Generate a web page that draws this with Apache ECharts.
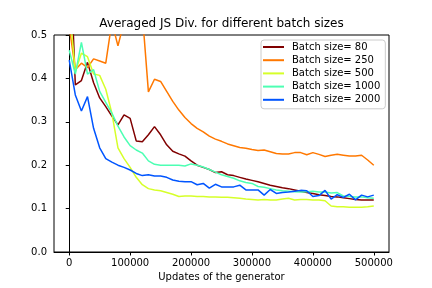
<!DOCTYPE html>
<html><head><meta charset="utf-8">
<script src="https://cdn.jsdelivr.net/npm/echarts@6/dist/echarts.min.js"></script>
<style>html,body{margin:0;padding:0;background:#fff}#c{width:432px;height:288px}</style>
</head><body><div id="c"></div>
<script>
const updates = [0,10000,20000,30000,40000,50000,60000,70000,80000,90000,
  100000,110000,120000,130000,140000,150000,160000,170000,180000,190000,
  200000,210000,220000,230000,240000,250000,260000,270000,280000,290000,
  300000,310000,320000,330000,340000,350000,360000,370000,380000,390000,
  400000,410000,420000,430000,440000,450000,460000,470000,480000,490000,500000];
const seriesNames = ['Batch size= 80','Batch size= 250','Batch size= 500','Batch size= 1000','Batch size= 2000'];
const batch80 = [0.75,0.385,0.395,0.437,0.39,0.355,0.335,0.313,0.293,0.316,
  0.308,0.256,0.254,0.27,0.289,0.27,0.247,0.232,0.226,0.221,
  0.21,0.2,0.195,0.19,0.183,0.185,0.178,0.176,0.172,0.168,
  0.165,0.162,0.158,0.154,0.151,0.148,0.146,0.143,0.14,0.137,
  0.135,0.132,0.13,0.128,0.127,0.125,0.123,0.121,0.12,0.12,0.12];
const batch250 = [0.52,0.42,0.435,0.425,0.445,0.44,0.435,0.53,0.475,0.53,
  0.58,0.57,0.55,0.369,0.398,0.393,0.37,0.347,0.327,0.31,
  0.296,0.285,0.277,0.267,0.26,0.255,0.249,0.245,0.241,0.239,
  0.236,0.234,0.235,0.231,0.227,0.226,0.226,0.229,0.229,0.224,
  0.229,0.225,0.22,0.223,0.225,0.223,0.221,0.221,0.223,0.212,0.2];
const batch500 = [0.57,0.415,0.458,0.45,0.41,0.407,0.375,0.32,0.24,0.215,
  0.195,0.172,0.155,0.146,0.143,0.141,0.137,0.133,0.128,0.129,
  0.129,0.128,0.128,0.127,0.127,0.126,0.126,0.125,0.124,0.122,
  0.121,0.12,0.121,0.12,0.12,0.122,0.124,0.12,0.121,0.121,
  0.12,0.12,0.118,0.106,0.104,0.104,0.103,0.103,0.103,0.104,0.106];
const batch1000 = [0.465,0.41,0.483,0.41,0.42,0.37,0.345,0.32,0.29,0.265,
  0.245,0.235,0.228,0.21,0.202,0.2,0.2,0.2,0.2,0.198,
  0.203,0.2,0.196,0.19,0.184,0.178,0.174,0.17,0.164,0.16,
  0.158,0.151,0.149,0.146,0.143,0.141,0.14,0.139,0.138,0.139,
  0.14,0.138,0.138,0.136,0.137,0.129,0.128,0.127,0.127,0.125,0.124];
const batch2000 = [0.442,0.362,0.325,0.358,0.285,0.24,0.215,0.207,0.2,0.195,
  0.189,0.181,0.176,0.178,0.175,0.175,0.172,0.166,0.163,0.162,
  0.162,0.155,0.158,0.147,0.156,0.15,0.15,0.15,0.154,0.143,
  0.143,0.143,0.131,0.144,0.135,0.137,0.138,0.14,0.142,0.141,
  0.128,0.13,0.142,0.122,0.132,0.126,0.133,0.12,0.131,0.127,0.131];
const xTicks = [0,100000,200000,300000,400000,500000];
const colors = ['#800000','#ff7800','#d6ff29','#4dffb3','#0055ff'];
const allSeries = [batch80,batch250,batch500,batch1000,batch2000];
const font = 'DejaVu Sans';

const chart = echarts.init(document.getElementById('c'), null, {renderer:'canvas'});
chart.setOption({
  animation:false,
  backgroundColor:'#fff',
  graphic:[{type:'text', x:221.5, y:24, style:{text:'Averaged JS Div. for different batch sizes', font:'12px "DejaVu Sans"', fill:'#000', align:'center', verticalAlign:'middle'}}],
  grid:{left:54, right:43, top:35, bottom:36, show:true, borderColor:'#000', borderWidth:1},
  legend:{orient:'vertical', left:261, top:40, padding:[2,5,4,2], itemWidth:21, itemHeight:2, icon:'rect', itemGap:3.2,
    backgroundColor:'rgba(255,255,255,0.8)', borderColor:'#ccc', borderWidth:1, borderRadius:3,
    textStyle:{fontFamily:font, fontSize:10, color:'#000', padding:[0,0,0,3]}},
  xAxis:{type:'value', min:-25000, max:525000,
    axisLine:{onZero:false, lineStyle:{color:'#000', width:1}},
    axisTick:{customValues:xTicks, length:3.5, lineStyle:{color:'#000'}},
    axisLabel:{customValues:xTicks, margin:6, fontSize:10, color:'#000', fontFamily:font, formatter:v=>String(v)},
    splitLine:{show:false},
    name:'Updates of the generator', nameLocation:'middle', nameGap:20,
    nameTextStyle:{fontFamily:font, fontSize:10, color:'#000'}},
  yAxis:{type:'value', min:0, max:0.5, interval:0.1,
    axisLine:{show:true, lineStyle:{color:'#000', width:1}},
    axisTick:{show:true, length:3.5, lineStyle:{color:'#000'}},
    axisLabel:{margin:7, fontSize:10, color:'#000', fontFamily:font, formatter:v=>v.toFixed(1)},
    splitLine:{show:false}},
  series: allSeries.map((arr,k)=>({
    name:seriesNames[k], type:'line', symbol:'none', clip:true,
    color:colors[k], lineStyle:{width:1.5, color:colors[k]},
    data: updates.map((x,i)=>[x, arr[i]])
  }))
});
</script></body></html>
